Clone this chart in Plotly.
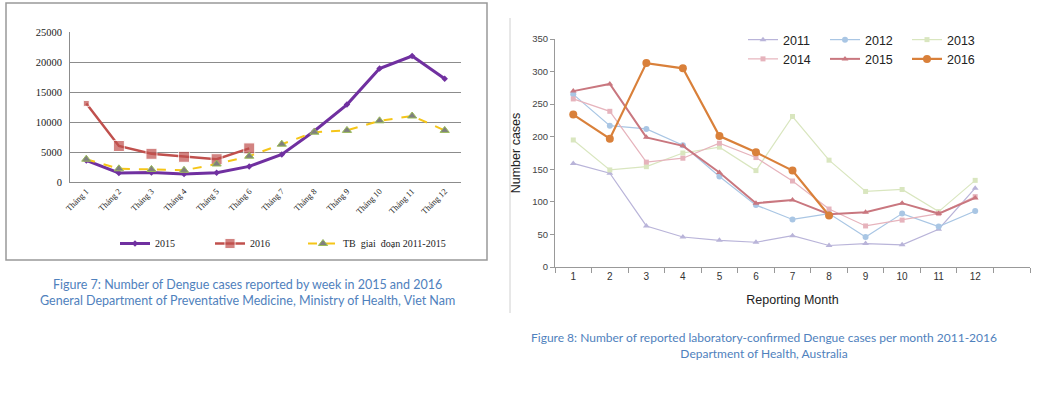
import plotly.graph_objects as go

W, H = 1048, 401

# ---------------- Data: Figure 7 (Viet Nam) ----------------
months_vn = ["Tháng 1", "Tháng 2", "Tháng 3", "Tháng 4", "Tháng 5", "Tháng 6",
             "Tháng 7", "Tháng 8", "Tháng 9", "Tháng 10", "Tháng 11", "Tháng 12"]
vn_2015 = [3600, 1500, 1600, 1350, 1550, 2600, 4600, 8500, 12900, 18900, 21000, 17200]
vn_2016 = [13100, 6000, 4700, 4200, 3800, 5600]
vn_tb = [3800, 2200, 2100, 1950, 3000, 4300, 6300, 8300, 8600, 10200, 11000, 8600]

# ---------------- Data: Figure 8 (Australia) ----------------
months_au = [1, 2, 3, 4, 5, 6, 7, 8, 9, 10, 11, 12]
au_2011 = [159, 144, 63, 46, 41, 38, 48, 33, 36, 34, 58, 121]
au_2012 = [265, 217, 212, 187, 139, 95, 73, 82, 46, 82, 62, 86]
au_2013 = [195, 149, 154, 175, 184, 148, 231, 164, 116, 119, 85, 133]
au_2014 = [258, 239, 161, 167, 190, 168, 132, 89, 63, 72, 82, 108]
au_2015 = [270, 281, 199, 186, 145, 98, 103, 81, 84, 98, 82, 106]
au_2016 = [234, 197, 313, 305, 201, 176, 148, 79]


def px(x):
    return x / W


def py(y):
    return 1 - y / H


fig = go.Figure()

serif = "Liberation Serif"
sans = "Liberation Sans"

# ---- Figure 7 traces ----
fig.add_trace(go.Scatter(
    x=months_vn, y=vn_2015, name="2015", mode="lines+markers",
    line=dict(color="#7030A0", width=3),
    marker=dict(symbol="diamond", size=5, color="#7030A0"),
    xaxis="x", yaxis="y", legend="legend"))
fig.add_trace(go.Scatter(
    x=months_vn[:len(vn_2016)], y=vn_2016, name="2016", mode="lines+markers",
    line=dict(color="#C0504D", width=2.5),
    marker=dict(symbol="square", size=[6, 11, 11, 11, 11, 11], color="#C0504D"),
    xaxis="x", yaxis="y", legend="legend"))
fig.add_trace(go.Scatter(
    x=months_vn, y=vn_tb, name="TB  giai  đoạn 2011-2015", mode="lines+markers",
    line=dict(color="#F5C518", width=2, dash="dash"),
    marker=dict(symbol="triangle-up", size=8, color="#7F7F7F",
                line=dict(color="#9BBB59", width=1)),
    xaxis="x", yaxis="y", legend="legend3"))

# ---- Figure 8 traces ----
au_series = [
    ("2011", au_2011, "#B9B4D9", "triangle-up", 1.2, 6, "c1"),
    ("2012", au_2012, "#A9C6E4", "circle", 1.2, 6, "c2"),
    ("2013", au_2013, "#D9E6BF", "square", 1.2, 5, "c3"),
    ("2014", au_2014, "#E6B3BC", "square", 1.2, 5, "c1"),
    ("2015", au_2015, "#C9777F", "triangle-up", 2, 6, "c2"),
    ("2016", au_2016, "#D9803A", "circle", 2.2, 8, "c3"),
]
for name, vals, col, sym, lw, ms, grp in au_series:
    fig.add_trace(go.Scatter(
        x=months_au[:len(vals)], y=vals, name=name, mode="lines+markers",
        line=dict(color=col, width=lw),
        marker=dict(symbol=sym, size=ms, color=col),
        legendgroup=grp,
        xaxis="x2", yaxis="y2", legend="legend2"))

grid = "#8C8C8C"
fig.update_layout(
    width=W, height=H,
    margin=dict(l=0, r=0, t=0, b=0, pad=0, autoexpand=False),
    paper_bgcolor="white", plot_bgcolor="white",
    xaxis=dict(domain=[px(70), px(461)], anchor="y", type="category",
               range=[-0.5, 11.5], tickangle=-45, showgrid=False,
               showline=True, linecolor=grid, ticks="", automargin=False,
               tickfont=dict(family=serif, size=8.5, color="#222")),
    yaxis=dict(domain=[py(182), py(32)], anchor="x", range=[0, 25000],
               dtick=5000, tickformat="d", showgrid=True, gridcolor=grid,
               gridwidth=1, showline=True, linecolor=grid, ticks="",
               zeroline=False, automargin=False, ticklabelstandoff=5,
               tickfont=dict(family=serif, size=10.5, color="#222")),
    xaxis2=dict(domain=[px(555), px(1030)], anchor="y2", range=[0.5, 13.5],
                tickvals=months_au, ticks="", showgrid=False, zeroline=False,
                showline=True, linecolor="#999", automargin=False,
                minor=dict(tick0=0.5, dtick=1, ticks="outside", ticklen=5,
                           tickcolor="#999", showgrid=False),
                tickfont=dict(family=sans, size=10, color="#333"),
                title=dict(text="Reporting Month", standoff=14,
                           font=dict(family=sans, size=12.5, color="#222"))),
    yaxis2=dict(domain=[py(267), py(39)], anchor="x2", range=[0, 350],
                dtick=50, ticks="outside", ticklen=4, tickcolor="#999",
                showgrid=False, zeroline=False, showline=True, linecolor="#999",
                automargin=False,
                tickfont=dict(family=sans, size=9.5, color="#444"),
                title=dict(text="Number cases", standoff=8,
                           font=dict(family=sans, size=12.5, color="#222"))),
    legend=dict(orientation="h", x=px(115), y=py(229), xanchor="left",
                yanchor="top", entrywidth=50, bgcolor="rgba(0,0,0,0)",
                font=dict(family=serif, size=10, color="#222")),
    legend3=dict(orientation="h", x=px(303), y=py(229), xanchor="left",
                 yanchor="top", bgcolor="rgba(0,0,0,0)",
                 font=dict(family=serif, size=10, color="#222")),
    legend2=dict(orientation="h", x=px(743), y=py(25), xanchor="left",
                 yanchor="top", entrywidth=37, bgcolor="rgba(0,0,0,0)",
                 font=dict(family=sans, size=12.5, color="#222")),
    showlegend=True,
)

# Frame around Figure 7 and divider line
fig.add_shape(type="rect", xref="paper", yref="paper",
              x0=px(6), x1=px(487), y0=py(260), y1=py(3),
              line=dict(color="#999", width=1.5), layer="below")
fig.add_shape(type="line", xref="paper", yref="paper",
              x0=px(510), x1=px(510), y0=py(313), y1=py(18),
              line=dict(color="#D0D0D0", width=1))

cap_col = "#4F81BD"
fig.add_annotation(xref="paper", yref="paper", x=px(247), y=py(292),
                   xanchor="center", yanchor="middle",
                   text="Figure 7: Number of Dengue cases reported by week in 2015 and 2016<br>"
                        "General Department of Preventative Medicine, Ministry of Health, Viet Nam",
                   showarrow=False, align="center",
                   font=dict(family="Lato", size=12.5, color=cap_col))
fig.add_annotation(xref="paper", yref="paper", x=px(764), y=py(345),
                   xanchor="center", yanchor="middle",
                   text="Figure 8: Number of reported laboratory-confirmed Dengue cases per month 2011-2016<br>"
                        "Department of Health, Australia",
                   showarrow=False, align="center",
                   font=dict(family="Lato", size=12, color=cap_col))

fig.write_html("out.html", config={"displayModeBar": False},
               post_script="document.body.style.margin='0px';")
